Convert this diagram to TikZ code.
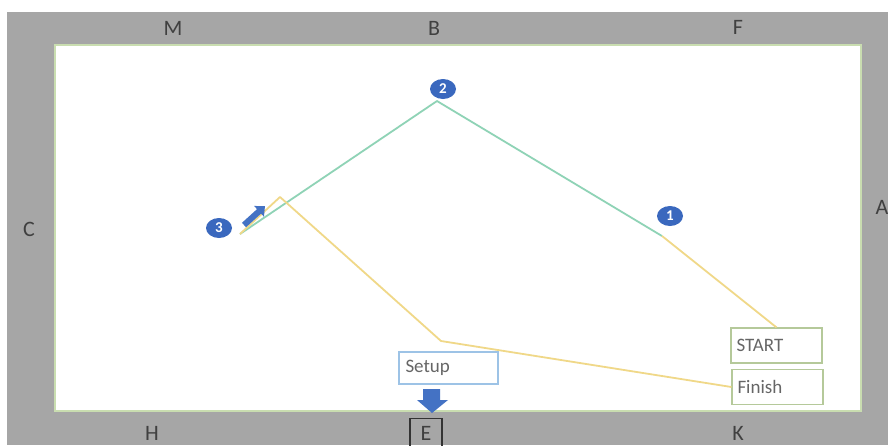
\documentclass[tikz,border=0pt]{standalone}
\usepackage{fontspec}
\setmainfont{Carlito}
\usetikzlibrary{arrows.meta,shapes.geometric}
\definecolor{bggray}{HTML}{A6A6A6}
\definecolor{badgeblue}{HTML}{3A68BE}
\definecolor{arrowblue}{HTML}{4472C4}
\definecolor{pathgreen}{HTML}{8FD3B6}
\definecolor{pathyellow}{HTML}{F0D888}
\definecolor{edgegreen}{HTML}{C9DDB0}
\definecolor{labelgray}{HTML}{404040}
\definecolor{textgray}{HTML}{666666}
\definecolor{setupblue}{HTML}{9DC3E6}
\definecolor{boxgreen}{HTML}{B5C99A}
\tikzset{
  sidelabel/.style={text=labelgray, font=\fontsize{22}{22}\selectfont, inner sep=0pt},
  badge/.style={ellipse, fill=badgeblue, text=white, font=\bfseries\fontsize{15}{15}\selectfont, minimum width=26pt, minimum height=20pt, inner sep=0pt},
  tagbox/.style={draw=boxgreen, line width=1.2pt, fill=white, text=textgray, font=\fontsize{19}{19}\selectfont, minimum width=91pt, minimum height=35pt, inner sep=0pt, text width=80pt, align=left},
  greenpath/.style={draw=pathgreen, line width=1.8pt},
  yellowpath/.style={draw=pathyellow, line width=1.8pt},
  bluearrow/.style={fill=arrowblue, draw=none}
}
\begin{document}
\begin{tikzpicture}[x=1pt,y=-1pt]
\useasboundingbox (0,0) rectangle (888,445);
\fill[white] (0,0) rectangle (888,445);
\fill[bggray] (7,12) rectangle (888,445);
\draw[edgegreen, fill=white, line width=1.2pt] (55,45) rectangle (861,411);

% side labels
\node[sidelabel] (M) at (173,28) {M};
\node[sidelabel] (B) at (434,28) {B};
\node[sidelabel] (F) at (738,27) {F};
\node[sidelabel] (C) at (29,229) {C};
\node[sidelabel] (A) at (882,207) {A};
\node[sidelabel] (H) at (152,433) {H};
\node[sidelabel] (K) at (738,433) {K};
\node[sidelabel, draw=black!80, line width=1.2pt, minimum width=32pt, minimum height=30pt, anchor=north] (E) at (426,418) {E};

% path points
\coordinate (p3) at (240,234);
\coordinate (p2) at (437,101);
\coordinate (p1) at (662,236);
\coordinate (py) at (280,197);
\coordinate (pm) at (441,341);

% boxes
\node[tagbox] (start) at (776.5,345.5) {START};
\node[tagbox] (finish) at (777.5,387) {Finish};
\node[tagbox, draw=setupblue, minimum width=99pt, minimum height=32pt, text width=86pt] (setup) at (448.5,368) {Setup};

% paths
\draw[greenpath, line join=round] (p3) -- (p2) -- (p1);
\draw[yellowpath, line join=round] (p1) -- (start.north);
\draw[yellowpath, line join=round] (finish.west) -- (pm) -- (py) -- (p3);

% badges
\node[badge] (b2) at (443,89) {2};
\node[badge] (b1) at (670,216) {1};
\node[badge] (b3) at (219,228) {3};

% blue arrows
\coordinate (a3s) at (244,225);
\coordinate (a3e) at (265,206);
\draw[arrowblue, line width=6pt, -{Triangle[length=8pt,width=14pt]}] (a3s) -- (a3e);
\fill[bluearrow] (423,389) -- (440,389) -- (440,400) -- (448,400) -- (432,413) -- (417,400) -- (423,400) -- cycle;
\end{tikzpicture}
\end{document}
